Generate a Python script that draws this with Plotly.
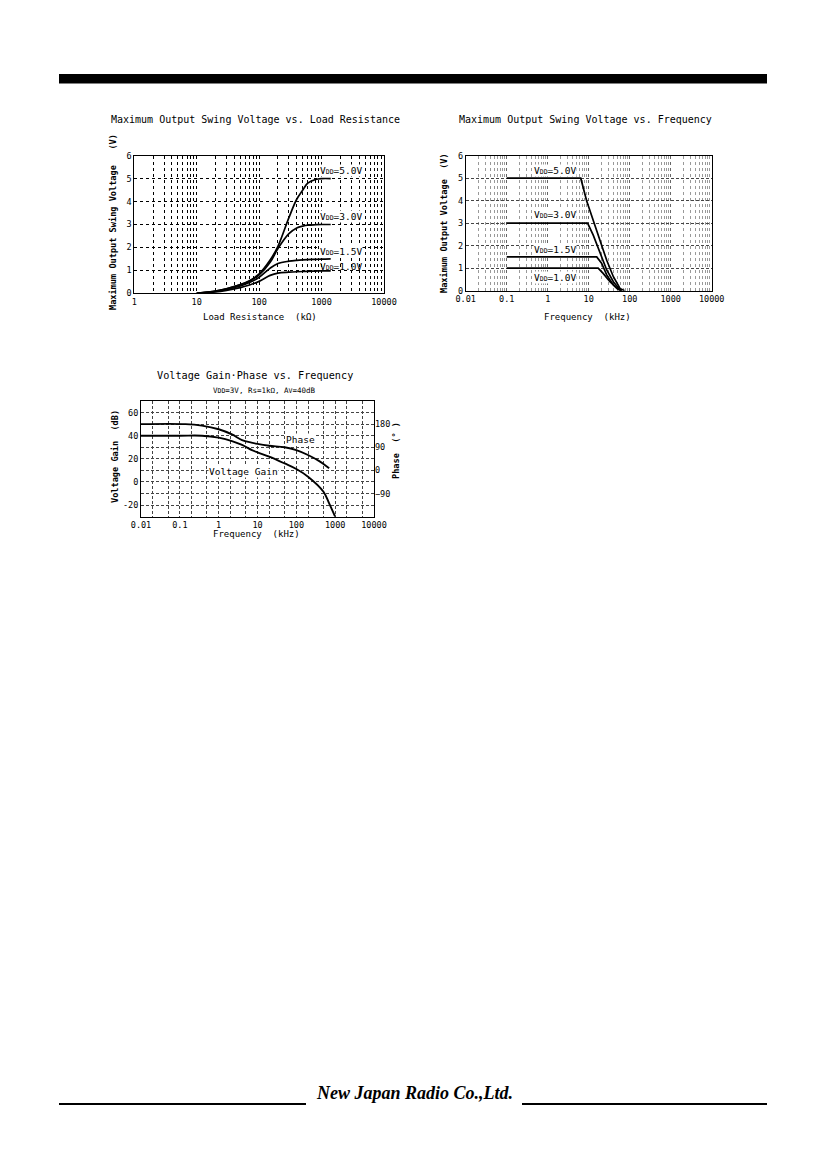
import plotly.graph_objects as go

W, H = 826, 1169
OFF = 8  # page body margin of the html page

# --- Maximum Output Swing Voltage vs. Load Resistance ---
load_r = [10, 20, 30, 50, 70, 100, 150, 200, 300, 400, 500, 600, 800, 1000, 1400]
swing_5v = [0.0, 0.1, 0.2, 0.38, 0.55, 0.85, 1.45, 2.05, 3.3, 4.1, 4.5, 4.8, 4.96, 5.0, 5.0]
swing_3v = [0.0, 0.1, 0.2, 0.37, 0.53, 0.8, 1.35, 1.95, 2.6, 2.85, 2.93, 2.97, 2.99, 3.0, 3.0]
swing_15v = [0.0, 0.08, 0.17, 0.32, 0.47, 0.7, 1.1, 1.3, 1.4, 1.44, 1.46, 1.47, 1.48, 1.49, 1.5]
swing_1v = [0.0, 0.06, 0.13, 0.25, 0.36, 0.52, 0.78, 0.88, 0.92, 0.94, 0.95, 0.96, 0.97, 0.98, 0.98]

# --- Maximum Output Swing Voltage vs. Frequency ---
freq_5v = [0.1, 6.4, 8.9, 12.9, 18.9, 27.5, 40, 58, 75]
vout_5v = [5.0, 5.0, 4.0, 3.1, 2.25, 1.35, 0.62, 0.1, 0.0]
freq_3v = [0.1, 9.4, 12.9, 18.9, 27.5, 40, 55, 65]
vout_3v = [3.0, 3.0, 2.47, 1.66, 0.92, 0.4, 0.08, 0.0]
freq_15v = [0.1, 15.7, 20.6, 27.5, 40, 50, 60]
vout_15v = [1.5, 1.5, 1.22, 0.7, 0.25, 0.08, 0.0]
freq_1v = [0.1, 17, 22.5, 33, 48, 63]
vout_1v = [1.0, 1.0, 0.77, 0.4, 0.13, 0.0]

# --- Voltage Gain / Phase vs. Frequency ---
gain_f = [0.01, 0.1, 0.37, 1, 2.2, 4, 7.2, 10, 20, 50, 100, 200, 500, 700, 1000]
gain_db = [40, 40, 40, 38.3, 35.4, 32, 27.6, 25.6, 21.9, 16, 11.2, 4.6, -8.4, -18.5, -30]
phase_f = [0.01, 0.14, 0.37, 1, 2.2, 4, 7, 10, 20, 50, 100, 200, 390, 700]
phase_deg = [180, 180, 174, 160, 140, 118, 108, 103, 96, 90, 79, 60, 36, 8]

SMALL = "<span style='font-size:6.5px'>%s</span>"
vdd_labels = ["V" + SMALL % "DD" + "=5.0V", "V" + SMALL % "DD" + "=3.0V",
              "V" + SMALL % "DD" + "=1.5V", "V" + SMALL % "DD" + "=1.0V"]
dec_vals_1 = [1, 10, 100, 1000, 10000]
dec_vals_2 = [0.01, 0.1, 1, 10, 100, 1000, 10000]
dec_text_2 = ["0.01", "0.1", "1", "10", "100", "1000", "10000"]

MONO = "DejaVu Sans Mono"


def px(x):
    return (x - OFF) / W


def py(y):
    return 1 - (y - OFF) / H


def minor_vals(lo, hi, mults):
    out = []
    e = lo
    while e < hi:
        for m in mults:
            out.append(m * 10 ** e)
        e += 1
    return out


line = dict(color="black", width=1.7)
fig = go.Figure()

for ys in [swing_5v, swing_3v, swing_15v, swing_1v]:
    fig.add_trace(go.Scatter(x=load_r, y=ys, mode="lines", line=dict(line, shape="spline"),
                             xaxis="x", yaxis="y", showlegend=False))

for fs, vs in [(freq_5v, vout_5v), (freq_3v, vout_3v), (freq_15v, vout_15v), (freq_1v, vout_1v)]:
    fig.add_trace(go.Scatter(x=fs, y=vs, mode="lines", line=line,
                             xaxis="x2", yaxis="y2", showlegend=False))

fig.add_trace(go.Scatter(x=gain_f, y=gain_db, mode="lines", line=dict(line, width=1.9, shape="spline"),
                         xaxis="x3", yaxis="y3", showlegend=False))
fig.add_trace(go.Scatter(x=phase_f, y=phase_deg, mode="lines", line=dict(line, width=1.9, shape="spline"),
                         xaxis="x3", yaxis="y4", showlegend=False))

tickfont = dict(family=MONO, size=8.5, color="black")
frame = dict(showline=True, linecolor="black", linewidth=1, mirror=True, zeroline=False,
             ticks="", tickfont=tickfont, automargin=False)
dotgrid = dict(showgrid=True, gridcolor="black", gridwidth=1, griddash="dot")
dash = "3px,2px"

fig.update_layout(
    width=W, height=H, margin=dict(l=0, r=0, t=0, b=0, autoexpand=False),
    paper_bgcolor="white", plot_bgcolor="white",
    font=dict(family=MONO, color="black"),
    xaxis=dict(frame, **dotgrid, type="log", range=[0, 4], domain=[px(134.3), px(384)], anchor="y",
               tickvals=dec_vals_1, ticktext=["1", "10", "100", "1000", "10000"],
               minor=dict(tickvals=minor_vals(0, 4, [2, 3, 4, 5, 6, 7, 8, 9]), showgrid=True,
                          gridcolor="black", griddash="dot", gridwidth=1)),
    yaxis=dict(frame, **dotgrid, range=[0, 6], dtick=1, domain=[py(293.3), py(155.7)], anchor="x"),
    xaxis2=dict(frame, showgrid=True, gridcolor="#666", griddash="dot", type="log", range=[-2, 4],
                domain=[px(465.7), px(711.7)], anchor="y2",
                tickvals=dec_vals_2, ticktext=dec_text_2,
                minor=dict(tickvals=minor_vals(-2, 4, [2, 3, 4, 5, 6, 7, 8, 9]), showgrid=True,
                           gridcolor="#999", griddash="dot", gridwidth=1)),
    yaxis2=dict(frame, showgrid=True, gridcolor="#444", griddash=dash, gridwidth=0.9, range=[0, 6], dtick=1,
                domain=[py(290.7), py(155.7)], anchor="x2"),
    xaxis3=dict(frame, showgrid=True, gridcolor="#444", griddash=dash, gridwidth=0.9, type="log",
                range=[-2, 4], domain=[px(141), px(374)], anchor="y3",
                tickvals=dec_vals_2, ticktext=dec_text_2,
                minor=dict(tickvals=minor_vals(-2, 4, [2, 5]), showgrid=True,
                           gridcolor="#444", griddash=dash, gridwidth=0.9)),
    yaxis3=dict(frame, showgrid=True, gridcolor="#444", griddash=dash, gridwidth=0.9, range=[-30, 70],
                tickvals=list(range(-30, 71, 10)),
                ticktext=["", "-20", "", "0", "", "20", "", "40", "", "60", ""],
                domain=[py(516.7), py(401)], anchor="x3"),
    yaxis4=dict(overlaying="y3", side="right", anchor="x3", range=[-180, 270],
                tickvals=[-90, 0, 90, 180], showgrid=False, zeroline=False, showline=False,
                ticks="", tickfont=tickfont, automargin=False),
)

ann = []


def text(x, y, s, size=10, angle=0, weight="normal", xanchor="center"):
    ann.append(dict(x=px(x), y=py(y), xref="paper", yref="paper", text=s, showarrow=False,
                    textangle=angle, xanchor=xanchor, yanchor="middle",
                    font=dict(family=MONO, size=size, color="black", weight=weight)))


# titles
text(255, 120, "Maximum Output Swing Voltage vs. Load Resistance", 10)
text(585, 119, "Maximum Output Swing Voltage vs. Frequency", 10)
text(255, 375, "Voltage Gain·Phase vs. Frequency", 10.2)
text(264, 390, "V" + SMALL % "DD" + "=3V, Rs=1kΩ, A" + SMALL % "V" + "=40dB", 7.5)

# axis titles
text(260, 317, "Load Resistance  (kΩ)", 9)
text(587, 317, "Frequency  (kHz)", 9)
text(256, 534, "Frequency  (kHz)", 9)
text(113, 222, "Maximum Output Swing Voltage   (V)", 8.6, -90, "bold")
text(444, 223, "Maximum Output Voltage  (V)", 8.6, -90, "bold")
text(115, 457, "Voltage Gain  (dB)", 8.6, -90, "bold")
text(396, 451, "Phase  (° )", 8.6, -90, "bold")

fig.update_layout(annotations=ann)

# curve labels in data coordinates
lab1_y = [5.37, 3.37, 1.82, 1.18]
lab1_bg = ["white", "white", "white", "rgba(0,0,0,0)"]
for s, yv, bg in zip(vdd_labels, lab1_y, lab1_bg):
    fig.add_annotation(x=2.96, y=yv, xref="x", yref="y", text=s, showarrow=False, xanchor="left",
                       bgcolor=bg, borderpad=0, font=dict(family=MONO, size=9.5, color="black"))
lab2_y = [5.33, 3.37, 1.82, 0.6]
for s, yv in zip(vdd_labels, lab2_y):
    fig.add_annotation(x=-0.37, y=yv, xref="x2", yref="y2", text=s, showarrow=False, xanchor="left",
                       bgcolor="white", borderpad=0, font=dict(family=MONO, size=9.5, color="black"))
fig.add_annotation(x=1.71, y=36.3, xref="x3", yref="y3", text="Phase", showarrow=False, xanchor="left",
                   bgcolor="white", borderpad=0, font=dict(family=MONO, size=9.5, color="black"))
fig.add_annotation(x=-0.28, y=8.9, xref="x3", yref="y3", text="Voltage Gain", showarrow=False,
                   xanchor="left", bgcolor="white", borderpad=0,
                   font=dict(family=MONO, size=9.5, color="black"))

# header bar and footer
fig.add_shape(type="rect", xref="paper", yref="paper", x0=px(59), x1=px(767), y0=py(83.5), y1=py(74),
              fillcolor="black", line=dict(width=0))
fig.add_shape(type="line", xref="paper", yref="paper", x0=px(59), x1=px(306), y0=py(1104), y1=py(1104),
              line=dict(color="black", width=2))
fig.add_shape(type="line", xref="paper", yref="paper", x0=px(522), x1=px(767), y0=py(1104), y1=py(1104),
              line=dict(color="black", width=2))
fig.add_annotation(x=px(414), y=py(1105), xref="paper", yref="paper", text="New Japan Radio Co.,Ltd.",
                   showarrow=False, font=dict(family="Liberation Serif", size=18, color="black",
                                              style="italic", weight="bold"))

fig.write_html("out.html")
